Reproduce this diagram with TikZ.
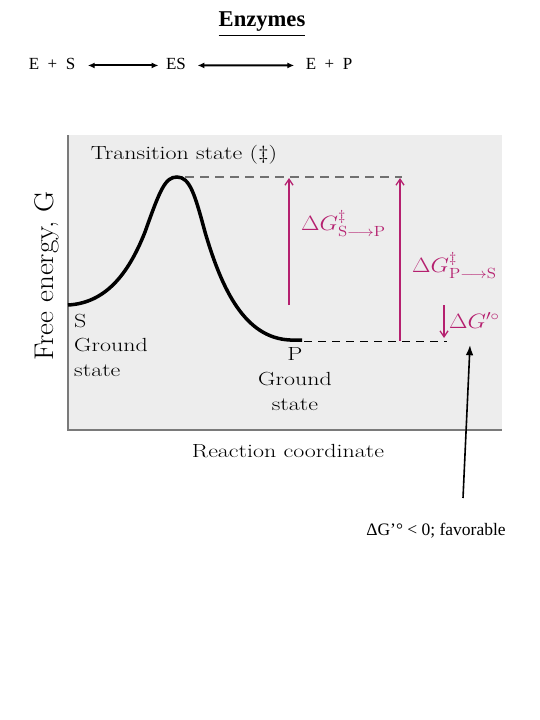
\documentclass[tikz,border=0pt]{standalone}
\usepackage{amsmath,amssymb}
\usepackage{fontspec}
\usepackage{graphicx}
\usepackage{tikz}
\usetikzlibrary{positioning,arrows.meta}
\newfontfamily\timesfont{Liberation Serif}
\usepackage{xcolor}
\definecolor{panel}{HTML}{EDEDED}
\definecolor{frame}{HTML}{7A7A7A}
\definecolor{dashgray}{HTML}{707070}
\definecolor{mag}{HTML}{B5206F}
\newcommand{\wide}[1]{\scalebox{1.26}[1]{#1}}
\newcommand{\magwide}[1]{\scalebox{1.15}[1]{#1}}

\begin{document}
\begin{tikzpicture}[x=1pt, y=-1pt, >=Latex]
        \useasboundingbox (0,0) rectangle (540,720);
        % header
        \node[font=\timesfont\bfseries\fontsize{22.6}{24}\selectfont, anchor=base] (title) at (262,27) {\underline{Enzymes}};
        \node[font=\timesfont\fontsize{17}{19}\selectfont, anchor=base] (es0) at (52,69) {E\ \ +\ \ S};
        \node[font=\timesfont\fontsize{17}{19}\selectfont, anchor=base] (es) at (176,69) {ES};
        \node[font=\timesfont\fontsize{17}{19}\selectfont, anchor=base] (ep) at (329,69) {E\ \ +\ \ P};
        \draw[{Latex[length=7pt,width=6pt]}-{Latex[length=7pt,width=6pt]}, line width=2pt] ([xshift=9pt,yshift=-2pt]es0.east) -- ([xshift=-4pt,yshift=-2pt]es.west);
        \draw[{Latex[length=7pt,width=6pt]}-{Latex[length=7pt,width=6pt]}, line width=2pt] ([xshift=8pt,yshift=-2pt]es.east) -- ([xshift=-8pt,yshift=-2pt]ep.west);
        % panel
        \fill[panel] (68,135) rectangle (502,430);
        \draw[frame, line width=1.2pt] (68,135) -- (68,430) -- (502,430);
        % energy curve
        \coordinate (s0) at (68,305);
        \coordinate (ts) at (177,177);
        \coordinate (p0) at (302,340);
        \draw[line width=3.5pt] (s0) .. controls (105,303) and (128,275) .. (145,232)
              .. controls (160,190) and (165,177) .. (ts)
              .. controls (190,177) and (195,195) .. (205,232)
              .. controls (222,290) and (245,338) .. (290,340) -- (p0);
        % levels
        \coordinate (tsend) at (402,177);
        \coordinate (pend) at (447,341);
        \draw[dashgray, dash pattern=on 9pt off 6pt, line width=1.2pt] (185,177) -- (tsend);
        \draw[black, dash pattern=on 8pt off 6pt, line width=1pt] (304,341) -- (pend);
        % magenta arrows
        \draw[mag, -{Straight Barb[length=6pt,width=8pt]}, line width=1.3pt] (289,305) -- (289,178);
        \draw[mag, -{Straight Barb[length=6pt,width=8pt]}, line width=1.3pt] (400,341) -- (400,178);
        \draw[mag, -{Straight Barb[length=6pt,width=8pt]}, line width=1.3pt] (444,305) -- (444,338);
        \node[mag, font=\fontsize{21}{23}\selectfont, anchor=base west, inner sep=0pt] (gsp) at (301,230) {\magwide{$\Delta G^{\ddagger}_{\mathrm{S}\longrightarrow\mathrm{P}}$}};
        \node[mag, font=\fontsize{21}{23}\selectfont, anchor=base west, inner sep=0pt] (gps) at (412,272) {\magwide{$\Delta G^{\ddagger}_{\mathrm{P}\longrightarrow\mathrm{S}}$}};
        \node[mag, font=\fontsize{21}{23}\selectfont, anchor=base west, inner sep=0pt] (g0) at (449,328) {\magwide{$\Delta G'^{\circ}$}};
        % labels
        \node[font=\fontsize{19}{21}\selectfont] (tslab) at (184,155) {\wide{Transition state (\ddag)}};
        \node[font=\fontsize{18}{20}\selectfont, rotate=90] (ylab) at (47,276) {\scalebox{1.62}[1.5]{Free energy, G}};
        \node[font=\fontsize{19}{24.5}\selectfont, align=left, anchor=north west, inner sep=0pt] (slab) at (74,314) {\wide{S}\\\wide{Ground}\\\wide{state}};
        \node[font=\fontsize{19}{25}\selectfont, align=center, anchor=north, inner sep=0pt] (plab) at (295,347) {\wide{P}\\\wide{Ground}\\\wide{state}};
        \node[font=\fontsize{19}{21}\selectfont] (xlab) at (288,451) {\wide{Reaction coordinate}};
        % note
        \node[font=\timesfont\fontsize{17.5}{19}\selectfont] (note) at (436,531) {ΔG’° < 0; favorable};
        \coordinate (tip) at (470,345);
        \draw[->, line width=1.6pt] (463,498) -- (tip);
\end{tikzpicture}
\end{document}
